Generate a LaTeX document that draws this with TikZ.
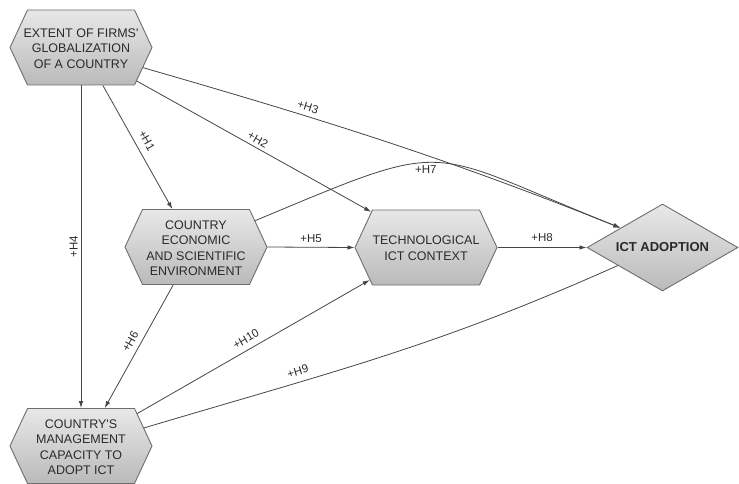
\documentclass[tikz,border=0pt]{standalone}
\usepackage{fontspec}
\setmainfont{Liberation Sans}
\newfontfamily\lsans{Liberation Sans}
\usetikzlibrary{shapes.symbols,shapes.geometric,arrows.meta}
\definecolor{hexTop}{HTML}{E8E8E8}
\definecolor{hexBot}{HTML}{BABABA}
\definecolor{edgeC}{HTML}{6E6E6E}
\definecolor{lineC}{HTML}{454545}
\definecolor{txtC}{HTML}{2A2A2A}
\begin{document}
\begin{tikzpicture}[x=1pt,y=-1pt,
  hexbox/.style={signal, signal to=west and east, signal pointer angle=130,
    minimum width=142pt, minimum height=75pt, inner sep=0pt,
    draw=edgeC, line width=0.9pt, top color=hexTop, bottom color=hexBot},
  boxtext/.style={align=center, text=txtC, font=\lsans\fontsize{12.5}{15.5}\selectfont, inner sep=0pt},
  conn/.style={draw=lineC, line width=0.8pt, -{Latex[length=7pt,width=4.5pt]}},
  plainline/.style={draw=lineC, line width=0.8pt},
  lab/.style={font=\lsans\fontsize{11.5}{13}\selectfont, text=txtC, inner sep=4.5pt}
]
\useasboundingbox (0,0) rectangle (739,484);

\node[hexbox] (ext) at (81,47.5) {};
\node[boxtext] (ext-t) at (81,48.5) {EXTENT OF FIRMS'\\GLOBALIZATION\\OF A COUNTRY};

\node[hexbox] (econ) at (196,247) {};
\node[boxtext] (econ-t) at (196,248) {COUNTRY\\ECONOMIC\\AND SCIENTIFIC\\ENVIRONMENT};

\node[hexbox] (tech) at (426,247.5) {};
\node[boxtext] (tech-t) at (426,248) {TECHNOLOGICAL\\ICT CONTEXT};

\node[hexbox] (mgmt) at (81,446) {};
\node[boxtext] (mgmt-t) at (81,447) {COUNTRY'S\\MANAGEMENT\\CAPACITY TO\\ADOPT ICT};

\node[diamond, aspect=1.74, minimum width=151pt, minimum height=87pt, inner sep=0pt,
  draw=edgeC, line width=0.9pt, top color=hexTop, bottom color=hexBot,
  font=\lsans\bfseries\fontsize{13}{15}\selectfont, text=txtC] (ict) at (662.5,247.5) {ICT ADOPTION};

% connectors
\draw[conn] (ext.south) -- node[lab, pos=0.5, rotate=90, anchor=south, inner sep=3pt] (l4) {+H4} (mgmt.north);
\draw[conn] (ext.-60) -- node[lab, sloped, above, pos=0.49, inner sep=7pt] (l1) {+H1} (econ.122);
\draw[conn] (ext.-31) -- node[lab, sloped, above, pos=0.5, inner sep=3.5pt] (l2) {+H2} (tech.147);
\draw[conn] (ext.-18) .. controls +(180,52) and +(-180,-72) .. node[lab, sloped, above, pos=0.33] (l3) {+H3} (ict.155);
\draw[conn] (econ.24) .. controls +(201,-84) and +(-200,-80) .. node[lab, pos=0.45, below, inner sep=2pt] (l7) {+H7} (ict.155);
\draw[conn] (econ.east) -- node[lab, above] (l5) {+H5} (tech.west);
\draw[conn] (tech.east) -- node[lab, above, inner sep=5pt] (l8) {+H8} (ict.west);
\draw[conn] (econ.-121) -- node[lab, sloped, above, pos=0.5, inner sep=5.5pt] (l6) {+H6} (mgmt.58);
\draw[conn] (mgmt.30) -- node[lab, sloped, above, pos=0.49, inner sep=6pt] (l10) {+H10} (tech.210);
\draw[plainline] (mgmt.16) .. controls +(191.7,-57.1) and +(-182.4,81.4) .. node[lab, sloped, above, pos=0.31, inner sep=6.5pt] (l9) {+H9} (ict.202);
\end{tikzpicture}
\end{document}
